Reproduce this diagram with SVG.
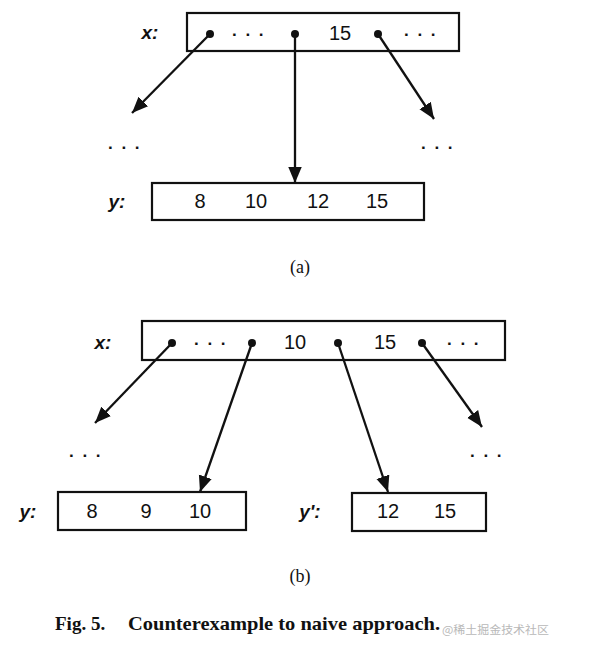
<svg xmlns="http://www.w3.org/2000/svg" width="592" height="654" viewBox="0 0 592 654">
<defs>
<style>
.box{fill:none;stroke:#111;stroke-width:2.2}
.num{font-family:"Liberation Sans",Arial,sans-serif;font-size:20px;fill:#111;text-anchor:middle}
.lbl{font-family:"Liberation Sans",Arial,sans-serif;font-size:19px;font-style:italic;font-weight:bold;fill:#111;text-anchor:middle}
.dots{font-family:"Liberation Sans",Arial,sans-serif;font-size:17px;font-weight:bold;fill:#111;text-anchor:middle;letter-spacing:1.5px}
.cap{font-family:"Liberation Serif","Times New Roman",serif;fill:#111;text-anchor:middle}
.dot{fill:#111}
.edge{stroke:#111;stroke-width:2.3;fill:none;marker-end:url(#ah)}
</style>
<marker id="ah" viewBox="0 0 10 10" refX="10" refY="5" markerWidth="7" markerHeight="7" markerUnits="strokeWidth" orient="auto">
<path d="M0,0.8 L10,5 L0,9.2 z" fill="#111"/>
</marker>
</defs>
<rect width="592" height="654" fill="#fff"/>

<g id="a-x">
<text class="lbl" x="150" y="39">x:</text>
<rect class="box" x="187" y="13" width="272" height="38"/>
<circle class="dot" cx="210" cy="34" r="4"/>
<circle class="dot" cx="295" cy="34" r="4"/>
<circle class="dot" cx="378" cy="34" r="4"/>
<text class="dots" x="249" y="40">· · ·</text>
<text class="num" x="340" y="40">15</text>
<text class="dots" x="421" y="40">· · ·</text>
</g>
<g id="a-left"><text class="dots" x="125" y="153">· · ·</text></g>
<g id="a-right"><text class="dots" x="438" y="153">· · ·</text></g>
<g id="a-y">
<text class="lbl" x="117" y="208">y:</text>
<rect class="box" x="152" y="183" width="272" height="37"/>
<text class="num" x="200" y="208">8</text>
<text class="num" x="256" y="208">10</text>
<text class="num" x="318" y="208">12</text>
<text class="num" x="377" y="208">15</text>
</g>
<text class="cap" x="300" y="273" font-size="18">(a)</text>

<g id="b-x">
<text class="lbl" x="103" y="349">x:</text>
<rect class="box" x="142" y="321" width="363" height="39"/>
<circle class="dot" cx="172" cy="343" r="4"/>
<circle class="dot" cx="252" cy="343" r="4"/>
<circle class="dot" cx="338" cy="343" r="4"/>
<circle class="dot" cx="422" cy="343" r="4"/>
<text class="dots" x="211" y="349">· · ·</text>
<text class="num" x="295" y="349">10</text>
<text class="num" x="385" y="349">15</text>
<text class="dots" x="464" y="349">· · ·</text>
</g>
<g id="b-left"><text class="dots" x="86" y="461">· · ·</text></g>
<g id="b-right"><text class="dots" x="487" y="461">· · ·</text></g>
<g id="b-y">
<text class="lbl" x="28" y="518">y:</text>
<rect class="box" x="58" y="492" width="188" height="38"/>
<text class="num" x="92" y="518">8</text>
<text class="num" x="146" y="518">9</text>
<text class="num" x="200" y="518">10</text>
</g>
<g id="b-y2">
<text class="lbl" x="310" y="518">y':</text>
<rect class="box" x="352" y="493" width="134" height="38"/>
<text class="num" x="388" y="518">12</text>
<text class="num" x="445" y="518">15</text>
</g>
<text class="cap" x="300" y="582" font-size="18">(b)</text>

<g id="connectors">
<line class="edge" x1="210" y1="34" x2="132" y2="113"/>
<line class="edge" x1="295" y1="34" x2="295" y2="183"/>
<line class="edge" x1="378" y1="34" x2="434" y2="119"/>
<line class="edge" x1="172" y1="343" x2="95" y2="423"/>
<line class="edge" x1="252" y1="343" x2="200" y2="492"/>
<line class="edge" x1="338" y1="343" x2="388" y2="492"/>
<line class="edge" x1="422" y1="343" x2="482" y2="427"/>
</g>

<text x="55" y="630" font-family="'Liberation Serif','Times New Roman',serif" font-size="19" font-weight="bold" fill="#111">Fig. 5.</text>
<text x="128" y="630" font-family="'Liberation Serif','Times New Roman',serif" font-size="19" font-weight="bold" fill="#111" textLength="312" lengthAdjust="spacingAndGlyphs">Counterexample to naive approach.</text>
<text x="442" y="634" font-family="'Noto Sans CJK SC','Liberation Sans',sans-serif" font-size="11.5" fill="#b8b8b8" textLength="107" lengthAdjust="spacingAndGlyphs">@稀土掘金技术社区</text>
</svg>
